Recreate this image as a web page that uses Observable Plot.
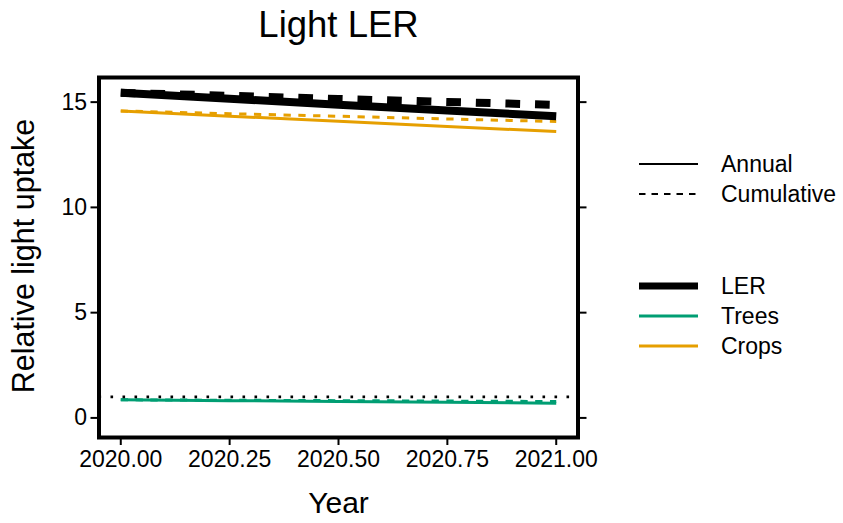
<!DOCTYPE html>
<html>
<head>
<meta charset="utf-8">
<script src="https://cdn.jsdelivr.net/npm/d3@7"></script>
<script src="https://cdn.jsdelivr.net/npm/@observablehq/plot@0.6"></script>
<style>
  html, body { margin: 0; padding: 0; background: #fff; }
  #wrap { position: relative; width: 843px; height: 523px; overflow: hidden;
          font-family: "Liberation Sans", Arial, Helvetica, sans-serif; color: #000; }
  #plot { position: absolute; left: 0; top: 55px; }
  .abs { position: absolute; white-space: nowrap; }
</style>
</head>
<body>
<div id="wrap">
  <div id="title" class="abs" style="left:0;top:4px;width:677px;text-align:center;font-size:36.5px;line-height:42px;"></div>
  <div id="plot"></div>
  <div id="ylab" class="abs" style="left:-177px;top:238px;width:400px;height:36px;line-height:36px;text-align:center;font-size:30.5px;transform:rotate(-90deg);"></div>
  <div id="xlab" class="abs" style="left:0;top:485px;width:677px;height:36px;line-height:36px;text-align:center;font-size:30px;"></div>
  <div id="legend"></div>
</div>
<script>
// ---- data ----
const chartTitle = "Light LER";
const xLabel = "Year";
const yLabel = "Relative light uptake";
const years = [2020.00, 2020.25, 2020.50, 2020.75, 2021.00];
const lerAnnual       = [15.44, 15.16, 14.88, 14.60, 14.33];
const lerCumulative   = [15.44, 15.30, 15.15, 15.01, 14.87];
const treesAnnual     = [0.86, 0.82, 0.78, 0.74, 0.70];
const treesCumulative = [0.86, 0.84, 0.82, 0.80, 0.78];
const cropsAnnual     = [14.58, 14.33, 14.09, 13.84, 13.60];
const cropsCumulative = [14.58, 14.45, 14.33, 14.20, 14.08];
const referenceLine = [1];
const xTicks = [2020.00, 2020.25, 2020.50, 2020.75, 2021.00];
const yTicks = [0, 5, 10, 15];
const typeNames = ["Annual", "Cumulative"];
const groupNames = ["LER", "Trees", "Crops"];

// ---- build table ----
const seriesValues = {
  LER:   {Annual: lerAnnual,   Cumulative: lerCumulative},
  Trees: {Annual: treesAnnual, Cumulative: treesCumulative},
  Crops: {Annual: cropsAnnual, Cumulative: cropsCumulative}
};
const rows = [];
for (const g of groupNames) for (const t of typeNames)
  seriesValues[g][t].forEach((v, i) => rows.push({year: years[i], value: v, group: g, type: t}));

// ---- styles ----
const groupColor = {LER: "#000000", Trees: "#009E73", Crops: "#E69F00"};
const groupWidth = {LER: 8, Trees: 3, Crops: 3};
const dashFor = {LER: "14.7,14.9", Trees: "7.3,7.5", Crops: "7.3,7.5"};

const marks = [];
for (const g of ["Trees", "Crops", "LER"]) {
  for (const t of typeNames) {
    marks.push(Plot.line(rows.filter(d => d.group === g && d.type === t), {
      x: "year", y: "value",
      stroke: groupColor[g], strokeWidth: groupWidth[g],
      strokeDasharray: t === "Cumulative" ? dashFor[g] : null,
      strokeLinecap: "butt"
    }));
  }
}
marks.push(Plot.ruleY(referenceLine, {stroke: "#000", strokeWidth: 2.6, strokeDasharray: "2.6,9.4"}));

const chart = Plot.plot({
  width: 600, height: 468,
  marginLeft: 98.5, marginRight: 22.5, marginTop: 22, marginBottom: 86,
  style: {fontFamily: "Liberation Sans, Arial, sans-serif", background: "#fff", overflow: "visible"},
  x: {domain: [2019.95, 2021.05]},
  y: {domain: [-0.93, 16.17]},
  marks: [
    ...marks,
    Plot.frame({stroke: "#000", strokeWidth: 4}),
    Plot.axisX({ticks: xTicks, tickFormat: d3.format(".2f"), tickSize: 8, tickPadding: 5,
                fontSize: 23, fill: "#000", stroke: "#000", strokeWidth: 2, label: null}),
    Plot.axisY({ticks: yTicks, tickFormat: d3.format("d"), tickSize: 8, tickPadding: 4,
                fontSize: 23, fill: "#000", stroke: "#000", strokeWidth: 2, label: null}),
    Plot.axisY({anchor: "right", ticks: yTicks, tickFormat: () => "", tickSize: 8,
                stroke: "#000", strokeWidth: 2, label: null})
  ]
});
document.getElementById("plot").appendChild(chart);
document.getElementById("title").textContent = chartTitle;
document.getElementById("xlab").textContent = xLabel;
document.getElementById("ylab").textContent = yLabel;

// ---- legend ----
const legend = document.getElementById("legend");
const legendItems = [
  {label: typeNames[0], color: "#000", width: 2.2, dash: null, y: 164},
  {label: typeNames[1], color: "#000", width: 2.2, dash: "6.5,6", y: 193.5},
  {label: groupNames[0], color: groupColor.LER, width: 7, dash: null, y: 286},
  {label: groupNames[1], color: groupColor.Trees, width: 3, dash: null, y: 316},
  {label: groupNames[2], color: groupColor.Crops, width: 3, dash: null, y: 346}
];
const ns = "http://www.w3.org/2000/svg";
for (const it of legendItems) {
  const svg = document.createElementNS(ns, "svg");
  svg.setAttribute("width", 60); svg.setAttribute("height", 20);
  svg.style.position = "absolute"; svg.style.left = "639px"; svg.style.top = (it.y - 10) + "px";
  const ln = document.createElementNS(ns, "line");
  ln.setAttribute("x1", 0); ln.setAttribute("x2", 59);
  ln.setAttribute("y1", 10); ln.setAttribute("y2", 10);
  ln.setAttribute("stroke", it.color); ln.setAttribute("stroke-width", it.width);
  if (it.dash) ln.setAttribute("stroke-dasharray", it.dash);
  svg.appendChild(ln);
  legend.appendChild(svg);
  const lab = document.createElement("div");
  lab.className = "abs";
  lab.textContent = it.label;
  lab.style.left = "721px"; lab.style.top = (it.y - 15) + "px";
  lab.style.fontSize = "23px"; lab.style.lineHeight = "30px";
  legend.appendChild(lab);
}
</script>
</body>
</html>
